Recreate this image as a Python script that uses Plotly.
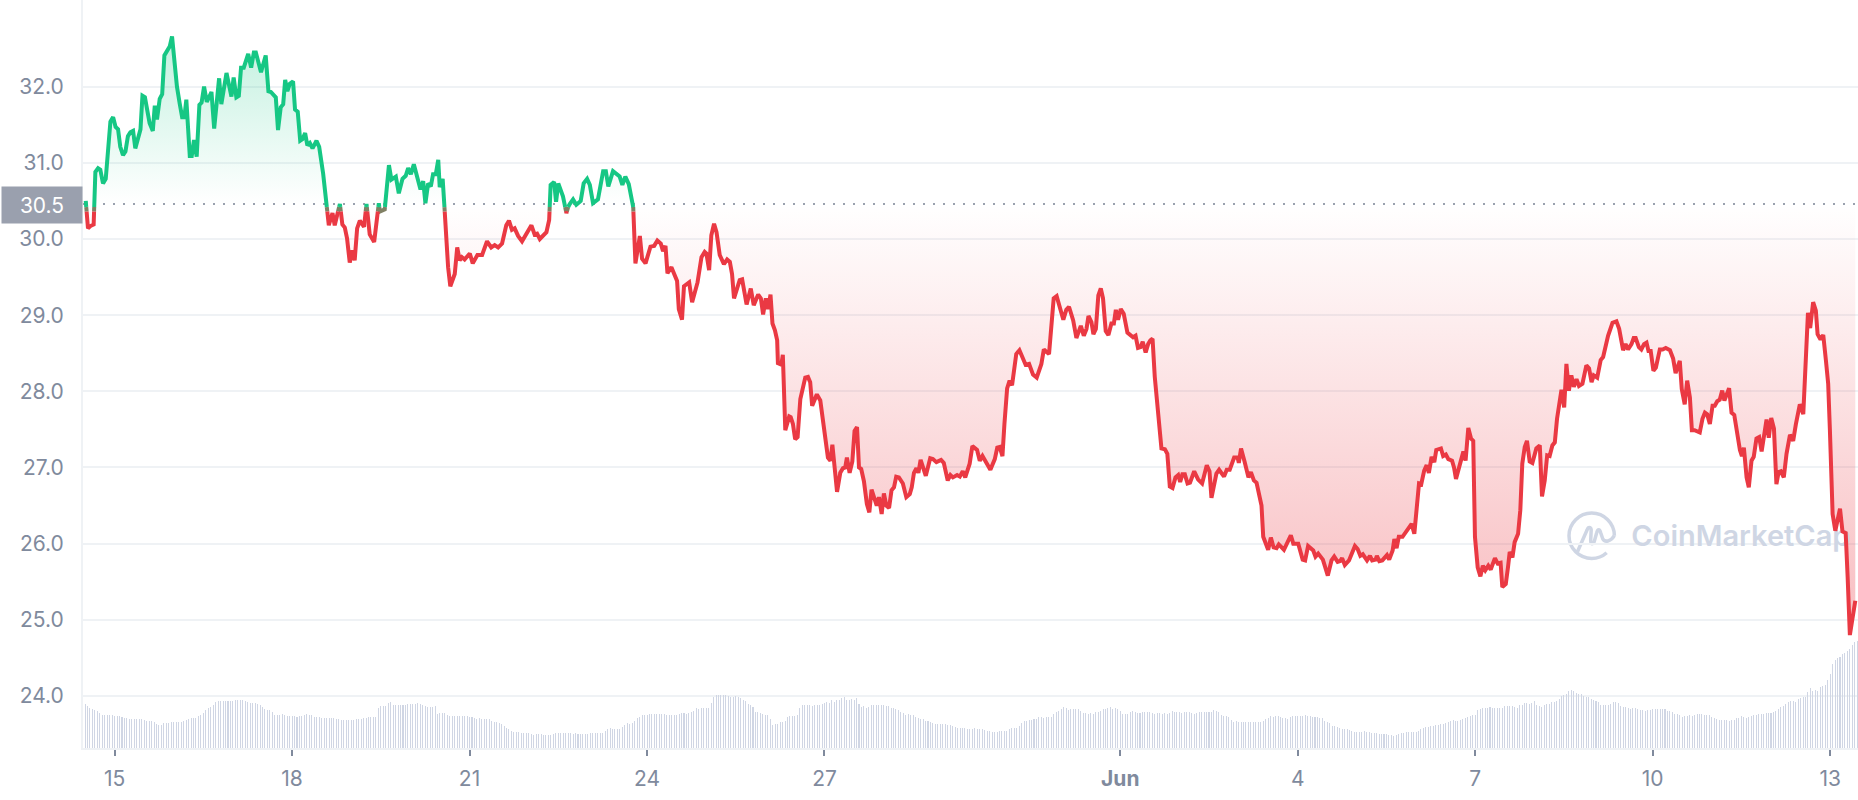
# CoinMarketCap style price chart: price line split around the period open, hourly volume below
import numpy as np
import pandas as pd
import plotly.graph_objects as go

GREEN = '#16c784'
RED = '#ea3943'
MIX = '#808064'
GRID = '#eff2f5'
TEXT = '#808a9d'
BAR = 'rgba(207,214,228,0.99)'  # below full opacity plotly rounds thin bars instead of widening them
MARK = '#cfd6e4'

# hours since 15 May 00:00 / price
hours_a = [-11.7, -10.8, -9.8, -8.5, -7.8, -6.7, -5.8, -4.7, -3.6, -1.7, -0.6, 0.4, 1.4, 2.3, 3.4, 4.4, 5.4, 6.4, 7.5, 8.4,
           10.5, 11.3, 12.3, 14.2, 15.5, 16.3, 17.2, 18.3, 19.3, 20.2, 21.3, 22.4, 23.3, 24.4, 25.3, 26.4, 27.4, 28.3, 29.1, 30.5,
           31.3, 32.2, 33.3, 34.4, 35.3, 36.3, 37.4, 38.3, 39.3, 40.4, 42.4, 43.3, 45.4, 47.4, 48.3, 49.4, 50.4, 51.3, 52.4, 54.2,
           55.4, 56.5, 57.3, 59.4, 61.3, 62.4, 63.4, 65.4, 66.3, 67.4, 68.4, 69.2, 70.1, 71.1, 72.4, 73.2, 74.3, 75.3, 76.2, 77.3,
           78.2, 79.2, 80.3, 81.9, 83.0, 84.6, 86.9, 88.4, 89.3, 91.4, 92.4, 93.4, 94.3, 95.4, 96.5, 97.4, 98.4, 99.5, 101.2, 102.2,
           103.5, 105.3, 107.2, 107.6, 109.6, 111.3, 112.3, 114.1, 115.3, 116.8, 118.1, 119.1, 120.2, 121.4, 124.1, 125.2, 126.1, 127.2, 128.3, 129.2,
           130.3, 131.3]
price_a = [30.50, 30.14, 30.17, 30.19, 30.88, 30.93, 30.91, 30.73, 30.79, 31.54, 31.60, 31.47, 31.44, 31.21, 31.10, 31.15, 31.35, 31.40, 31.42, 31.19,
           31.44, 31.88, 31.86, 31.52, 31.42, 31.75, 31.57, 31.84, 31.90, 32.41, 32.46, 32.53, 32.66, 32.26, 32.00, 31.78, 31.60, 31.60, 31.83, 31.09,
           31.09, 31.30, 31.08, 31.76, 31.79, 32.00, 31.80, 31.86, 31.93, 31.45, 32.11, 31.77, 32.18, 31.87, 32.12, 31.86, 31.88, 32.25, 32.25, 32.43,
           32.25, 32.45, 32.45, 32.19, 32.41, 31.94, 31.93, 31.86, 31.43, 31.73, 31.77, 32.09, 31.94, 32.04, 32.07, 31.70, 31.67, 31.29, 31.31, 31.39,
           31.23, 31.26, 31.19, 31.29, 31.21, 30.86, 30.18, 30.34, 30.18, 30.46, 30.19, 30.15, 30.01, 29.69, 29.85, 29.72, 30.14, 30.24, 30.16, 30.46,
           30.06, 29.96, 30.47, 30.36, 30.39, 30.97, 30.78, 30.82, 30.60, 30.79, 30.83, 30.93, 30.85, 30.98, 30.65, 30.76, 30.47, 30.73, 30.69, 30.85,
           30.85, 31.04]

hours_b = [131.9, 133.1, 133.9, 134.6, 135.3, 136.2, 138.0, 139.0, 140.0, 140.9, 142.0, 144.1, 145.3, 147.2, 149.1, 151.1, 152.8, 154.2, 155.6, 157.2,
           158.9, 160.0, 161.2, 162.3, 163.7, 165.3, 167.3, 169.1, 170.4, 171.4, 172.5, 175.2, 176.3, 176.9, 178.3, 179.1, 180.0, 181.9, 183.3, 184.2,
           186.0, 187.3, 189.1, 190.3, 191.7, 192.8, 194.1, 196.1, 198.2, 199.3, 200.3, 202.2, 204.9, 206.0, 207.2, 208.6, 210.4, 211.3, 213.1, 214.0,
           215.4, 217.4, 218.9, 220.2, 221.6, 222.5, 223.5, 224.3, 225.9, 228.2, 228.9, 230.2, 231.0, 233.1, 234.3, 236.5, 238.1, 239.4, 240.1, 241.2,
           242.1, 243.2, 244.2, 245.5, 247.2, 248.5, 249.6, 250.5, 251.3, 253.6, 254.6, 256.4, 258.1, 259.3, 261.1, 262.2, 263.1, 264.2, 265.1, 266.1,
           266.9, 267.9, 268.8, 269.1, 270.5, 271.1, 272.1, 273.7, 274.3]
price_b = [30.68, 30.79, 30.38, 29.90, 29.63, 29.38, 29.54, 29.89, 29.72, 29.76, 29.73, 29.81, 29.68, 29.79, 29.79, 29.97, 29.89, 29.92, 29.89, 29.94,
           30.18, 30.24, 30.12, 30.14, 30.04, 29.97, 30.09, 30.18, 30.06, 30.07, 30.00, 30.09, 30.25, 30.71, 30.75, 30.49, 30.73, 30.56, 30.34, 30.44,
           30.52, 30.45, 30.50, 30.73, 30.79, 30.71, 30.47, 30.52, 30.89, 30.89, 30.69, 30.89, 30.82, 30.71, 30.82, 30.72, 30.42, 29.68, 30.04, 29.74,
           29.68, 29.90, 29.91, 29.98, 29.94, 29.84, 29.91, 29.55, 29.63, 29.45, 29.08, 28.94, 29.38, 29.43, 29.17, 29.43, 29.76, 29.83, 29.81, 29.59,
           30.05, 30.20, 30.09, 29.79, 29.67, 29.73, 29.70, 29.54, 29.22, 29.46, 29.47, 29.14, 29.35, 29.13, 29.27, 29.22, 29.01, 29.22, 29.08, 29.27,
           28.89, 28.80, 28.67, 28.37, 28.35, 28.48, 27.49, 27.67, 27.66]

hours_c = [275.2, 276.1, 277.1, 278.2, 280.2, 281.3, 282.2, 283.0, 284.9, 286.3, 288.5, 289.4, 290.4, 291.2, 293.1, 294.4, 295.5, 296.4, 297.1, 298.2,
           299.3, 300.2, 301.2, 302.0, 302.9, 304.0, 305.2, 306.2, 307.1, 308.3, 309.2, 310.1, 311.2, 312.1, 313.1, 314.2, 315.2, 316.2, 317.1, 318.2,
           319.8, 321.2, 322.6, 323.4, 324.3, 325.3, 326.1, 327.0, 329.1, 330.9, 332.0, 333.4, 335.3, 336.4, 338.0, 339.1, 340.1, 341.8, 342.9, 344.1,
           345.1, 346.9, 348.0, 349.9, 351.0, 352.1, 353.4, 355.3, 357.1, 358.1, 359.1, 360.2, 361.0, 362.1, 363.1, 364.1, 365.8, 367.1, 369.6, 371.0,
           372.6, 374.1, 376.0, 377.0, 379.1, 381.0, 382.2, 383.4, 384.9, 386.1, 387.2, 388.9, 390.2, 392.0, 393.2, 394.3, 395.1, 396.3, 397.1, 398.1,
           399.1, 400.1, 401.0, 402.1, 403.2, 404.4, 405.4, 406.2, 407.1, 408.2, 409.4, 410.9, 412.1, 413.2, 414.2, 415.2, 416.2, 417.1, 418.3, 419.3]
price_c = [27.57, 27.37, 27.40, 27.90, 28.18, 28.19, 28.12, 27.81, 27.96, 27.88, 27.31, 27.13, 27.09, 27.30, 26.68, 26.93, 26.99, 27.00, 27.13, 26.93,
           27.08, 27.48, 27.53, 27.00, 26.98, 26.82, 26.52, 26.41, 26.71, 26.58, 26.50, 26.61, 26.39, 26.66, 26.50, 26.47, 26.70, 26.74, 26.88, 26.87,
           26.79, 26.61, 26.65, 26.74, 26.93, 26.99, 26.93, 27.10, 26.89, 27.12, 27.11, 27.07, 27.10, 27.06, 26.83, 26.90, 26.87, 26.90, 26.88, 26.95,
           26.87, 27.05, 27.28, 27.23, 27.09, 27.15, 27.07, 26.97, 27.11, 27.26, 27.27, 27.15, 27.57, 28.04, 28.14, 28.08, 28.49, 28.54, 28.35, 28.36,
           28.22, 28.18, 28.36, 28.55, 28.49, 29.22, 29.25, 29.13, 28.94, 29.07, 29.11, 28.93, 28.70, 28.86, 28.73, 28.82, 28.99, 28.91, 28.75, 28.82,
           29.26, 29.35, 29.22, 28.79, 28.74, 28.89, 28.89, 29.07, 28.94, 29.08, 29.02, 28.77, 28.74, 28.71, 28.73, 28.57, 28.58, 28.65, 28.51, 28.62]

hours_d = [420.2, 421.1, 422.0, 423.4, 424.7, 426.1, 427.1, 428.1, 429.2, 430.4, 431.5, 432.3, 433.2, 434.2, 435.3, 436.3, 438.0, 439.6, 441.2, 443.1,
           444.2, 445.0, 447.0, 448.1, 450.1, 451.2, 452.4, 454.2, 455.6, 456.1, 457.0, 458.5, 460.0, 461.0, 462.2, 463.3, 465.3, 466.0, 468.0, 469.1,
           470.2, 471.4, 472.3, 474.4, 476.1, 477.2, 478.2, 480.2, 482.0, 483.0, 484.2, 486.3, 487.2, 488.3, 490.2, 492.2, 493.7, 494.8, 496.2, 497.2,
           498.0, 499.1, 500.8, 503.2, 504.3, 505.4, 506.4, 508.1, 509.3, 510.2, 511.6, 512.1, 513.1, 514.3, 516.2, 517.1, 518.5, 519.2, 520.1, 521.0,
           522.5, 524.6, 526.2, 527.3, 528.2, 529.2, 530.1, 531.3, 532.3, 533.2, 534.3, 535.4, 536.2, 538.1, 539.0, 540.1, 541.1, 542.6, 543.4, 544.2,
           546.2, 547.2, 548.1, 549.2, 550.3, 551.2, 551.9, 553.0, 554.1, 555.1, 556.1, 557.3, 558.3, 560.0, 561.1, 562.3, 563.0]
price_d = [28.67, 28.69, 28.19, 27.66, 27.25, 27.24, 27.18, 26.75, 26.73, 26.87, 26.90, 26.81, 26.91, 26.91, 26.79, 26.80, 26.95, 26.84, 26.79, 27.03,
           26.95, 26.60, 26.92, 26.97, 26.88, 26.97, 26.97, 27.13, 27.13, 27.06, 27.25, 27.07, 26.87, 26.94, 26.83, 26.80, 26.50, 26.09, 25.92, 26.08,
           25.95, 25.94, 25.99, 25.92, 26.02, 26.11, 26.00, 26.00, 25.79, 25.78, 25.97, 25.91, 25.83, 25.87, 25.79, 25.58, 25.78, 25.83, 25.76, 25.77,
           25.81, 25.72, 25.78, 25.97, 25.93, 25.84, 25.86, 25.78, 25.84, 25.78, 25.79, 25.84, 25.77, 25.78, 25.85, 25.79, 25.91, 26.06, 25.94, 26.09,
           26.09, 26.18, 26.26, 26.13, 26.43, 26.79, 26.78, 26.96, 27.03, 26.93, 27.14, 27.07, 27.23, 27.25, 27.15, 27.17, 27.11, 27.09, 27.00, 26.85,
           27.09, 27.21, 27.09, 27.52, 27.38, 27.35, 26.09, 25.69, 25.57, 25.71, 25.65, 25.71, 25.66, 25.81, 25.74, 25.75, 25.43]

hours_e = [564.4, 565.3, 566.0, 567.1, 568.0, 569.4, 570.3, 571.1, 572.1, 573.0, 574.1, 575.2, 576.8, 578.2, 579.1, 580.2, 581.2, 582.2, 583.3, 584.3,
           585.2, 587.0, 588.1, 589.0, 590.0, 591.0, 592.0, 593.1, 594.1, 595.5, 596.6, 597.1, 598.2, 599.2, 600.1, 601.5, 602.9, 603.9, 605.9, 607.7,
           609.3, 610.4, 612.0, 613.0, 614.0, 615.4, 616.3, 617.1, 618.4, 619.4, 620.5, 621.5, 622.3, 623.2, 624.3, 625.3, 626.9, 628.0, 629.3, 631.0,
           632.3, 633.3, 635.0, 635.8, 637.0, 638.0, 639.1, 639.9, 641.0, 642.5, 643.1, 644.2, 645.2, 646.1, 647.2, 648.3, 649.2, 650.2, 651.2, 652.2,
           653.1, 655.0, 656.0, 657.1, 658.4, 659.4, 660.2, 661.0, 662.1, 663.0, 664.1, 665.0, 666.1, 667.2, 668.2, 670.2, 671.1, 672.1, 673.2, 674.2,
           675.1, 676.0, 677.2, 678.3, 679.7, 681.0, 682.1, 683.7, 685.1, 686.2, 687.0, 687.9, 689.1, 690.2, 690.9, 692.1, 693.2, 694.3, 695.2, 695.9,
           697.0, 698.1, 700.0, 701.0, 702.3, 703.1, 704.0, 706.2]
price_e = [25.47, 25.69, 25.89, 25.82, 26.02, 26.13, 26.44, 27.05, 27.27, 27.35, 27.08, 27.06, 27.25, 27.29, 26.62, 26.83, 27.16, 27.15, 27.29, 27.33,
           27.64, 28.02, 27.79, 28.36, 28.01, 28.21, 28.06, 28.16, 28.07, 28.10, 28.32, 28.34, 28.30, 28.12, 28.21, 28.18, 28.41, 28.45, 28.73, 28.90,
           28.92, 28.82, 28.54, 28.62, 28.55, 28.62, 28.70, 28.70, 28.58, 28.55, 28.62, 28.64, 28.53, 28.53, 28.27, 28.31, 28.55, 28.55, 28.57, 28.54,
           28.43, 28.24, 28.40, 28.03, 27.83, 28.14, 27.92, 27.49, 27.49, 27.46, 27.46, 27.64, 27.72, 27.70, 27.57, 27.81, 27.81, 27.87, 27.89, 28.01,
           27.88, 28.04, 27.72, 27.69, 27.40, 27.23, 27.15, 27.26, 26.87, 26.74, 27.09, 27.14, 27.38, 27.40, 27.21, 27.63, 27.39, 27.65, 27.51, 26.78,
           26.94, 26.95, 26.87, 27.18, 27.43, 27.35, 27.57, 27.83, 27.70, 28.62, 29.03, 28.83, 29.17, 29.06, 28.75, 28.68, 28.74, 28.40, 28.10, 27.49,
           26.39, 26.17, 26.46, 26.16, 26.14, 25.56, 24.80, 25.25]

# hourly volume (million USD), first bar at 14 May 12:00
volume_a = [44, 42, 40, 39, 38, 37, 35, 33, 33, 33, 33, 33, 32, 32, 32, 31, 30, 30, 29, 29, 29, 29, 29, 29,
            28, 27, 27, 27, 26, 24, 23, 23, 25, 25, 25, 26, 26, 26, 26, 26, 27, 28, 29, 30, 30, 30, 32, 33,
            35, 38, 40, 41, 43, 46, 47, 47, 47, 47, 47, 47, 47, 48, 48, 48, 48, 47, 46, 45, 45, 45, 44, 43,
            41, 39, 38, 38, 36, 33, 33, 33, 34, 33, 32, 32, 32, 32, 31, 32, 32, 33, 34, 33, 33, 31, 31, 31,
            30, 30, 30, 30, 30, 30, 29, 29, 28, 28, 28, 28, 28, 28, 29, 29, 29, 30, 30, 31, 31, 31, 31, 40,
            42, 42, 42, 45, 46, 43, 43, 43, 43, 43, 43, 44, 44, 44, 44, 45, 44, 43, 42, 41, 41, 41, 42, 34,
            35, 35, 35, 33, 32, 32, 32, 32, 32, 32, 32, 32, 31, 31, 30, 29, 30, 29, 29, 29, 29, 27, 26, 26,
            25, 24, 22, 20, 19, 17, 16, 16, 16, 15, 15, 15, 15, 14, 13, 14, 14, 14, 13, 13, 13, 13, 14, 15,
            15, 15, 15, 15, 15, 15, 14, 15, 14, 14, 14, 14, 14, 15, 15, 15, 15, 15, 15, 17, 19, 20, 19, 19,
            19, 19]
volume_b = [21, 23, 25, 24, 25, 27, 30, 31, 33, 33, 33, 34, 34, 34, 34, 34, 34, 34, 33, 33, 33, 33, 33, 34,
            35, 35, 34, 35, 36, 37, 40, 39, 40, 40, 40, 40, 45, 51, 53, 53, 53, 53, 53, 52, 51, 51, 52, 51,
            50, 48, 47, 44, 43, 41, 36, 36, 35, 34, 33, 33, 29, 23, 24, 24, 26, 26, 27, 31, 32, 32, 32, 33,
            40, 43, 43, 43, 43, 42, 43, 43, 43, 44, 45, 46, 45, 48, 46, 48, 48, 50, 51, 48, 48, 49, 48, 50,
            44, 41, 42, 40, 41, 43, 43, 43, 43, 43, 43, 42, 42, 40, 40, 39, 38, 36, 35, 33, 34, 33, 33, 31,
            30, 29, 29, 27, 27, 26, 25, 24, 24, 24, 24, 24, 23, 23, 22, 21, 20, 20, 20, 20, 19, 19, 19, 20,
            19, 19, 19, 18, 17, 17, 16, 16, 16, 17, 17, 17, 17, 19, 20, 20, 20, 22, 25, 27, 27, 28, 28, 29,
            29, 31, 31, 30, 31, 31, 31, 34, 36, 37, 39, 41, 40, 38, 39, 39, 39, 39, 37, 35, 35, 34, 35, 34,
            36, 36, 37, 39, 39, 40, 41, 39, 40, 39, 37, 34, 34, 34, 36, 37, 36, 35, 35, 36, 36, 36, 36, 35,
            34, 35, 35, 34, 35, 34, 35, 37, 36, 36, 36, 35, 36, 36, 36, 35, 34, 35, 36, 36, 36, 36, 36, 36,
            38, 37, 36, 33, 32, 32, 31, 28, 26, 27, 26, 26]
volume_c = [26, 26, 26, 26, 26, 26, 26, 26, 27, 29, 30, 32, 31, 32, 32, 31, 30, 30, 29, 31, 32, 32, 32, 32,
            32, 33, 32, 32, 31, 31, 31, 30, 30, 27, 26, 25, 22, 22, 21, 20, 19, 19, 19, 18, 17, 16, 16, 16,
            16, 17, 16, 16, 15, 15, 15, 14, 14, 14, 14, 13, 13, 12, 13, 14, 15, 15, 16, 16, 16, 16, 16, 17,
            19, 20, 21, 21, 22, 22, 23, 23, 24, 24, 25, 26, 27, 28, 27, 27, 28, 29, 30, 31, 32, 33, 33, 38,
            39, 40, 40, 40, 41, 40, 40, 40, 40, 40, 42, 42, 42, 42, 41, 40, 43, 43, 45, 45, 44, 45, 47, 43,
            42, 41, 43, 44, 44, 46, 46, 47, 49, 52, 53, 54, 57, 58, 57, 55, 54, 54, 52, 51, 51, 49, 48, 47,
            46, 43, 43, 43, 43, 44, 46, 46, 45, 42, 41, 41, 40, 39, 40, 40, 39, 38, 38, 37, 38, 38, 39, 39,
            39, 39, 39, 39, 37, 37, 36, 34, 34, 33, 31, 32, 32, 33, 32, 33, 34, 34, 34, 33, 33, 33, 31, 30,
            29, 28, 28, 28, 28, 27, 28, 28, 30, 30, 32, 31, 30, 31, 32, 33, 33, 34, 34, 34, 35, 35, 35, 36,
            37, 39, 41, 42, 44, 46, 47, 47, 46, 49, 50, 51, 51, 56, 60, 57, 58, 57, 61, 62, 63, 68, 74, 84,
            88, 90, 91, 94, 95, 97, 99, 103, 106, 107]

tick_dates = ['2022-05-15', '2022-05-18', '2022-05-21', '2022-05-24', '2022-05-27',
              '2022-06-01', '2022-06-04', '2022-06-07', '2022-06-10', '2022-06-13']
tick_labels = ['15', '18', '21', '24', '27', '<b>Jun</b>', '4', '7', '10', '13']
price_ticks = [24, 25, 26, 27, 28, 29, 30, 31, 32]

OPEN_PRICE = 30.46
SPLIT_HI = 30.42
SPLIT_LO = 30.36
T0 = pd.Timestamp('2022-05-15')


def to_time(h):
    return T0 + pd.to_timedelta(np.asarray(h, dtype=float), unit='h')


def with_crossings(h, p, levels):
    # adds a point wherever the line meets one of the levels
    xs, ys = [h[0]], [p[0]]
    for i in range(len(h) - 1):
        cuts = []
        for lv in levels:
            if (p[i] - lv) * (p[i + 1] - lv) < 0:
                cuts.append((lv - p[i]) / (p[i + 1] - p[i]))
        for t in sorted(cuts):
            xs.append(h[i] + t * (h[i + 1] - h[i]))
            ys.append(p[i] + t * (p[i + 1] - p[i]))
        xs.append(h[i + 1])
        ys.append(p[i + 1])
    return np.array(xs), np.array(ys)


def band(y, lo, hi):
    eps = 1e-9
    return np.where((y >= lo - eps) & (y <= hi + eps), y, np.nan)


hours = hours_a + hours_b + hours_c + hours_d + hours_e
prices = price_a + price_b + price_c + price_d + price_e
hx, py = with_crossings(hours, prices, [OPEN_PRICE, SPLIT_HI, SPLIT_LO])
tx = to_time(hx)

fig = go.Figure()

# green area above the open price, red area under it
fig.add_trace(go.Scatter(x=tx, y=np.full(len(tx), OPEN_PRICE), mode='lines', line=dict(width=0), hoverinfo='skip'))
fig.add_trace(go.Scatter(
    x=tx, y=np.maximum(py, OPEN_PRICE), mode='lines', line=dict(width=0), fill='tonexty', hoverinfo='skip',
    fillgradient=dict(type='vertical', start=OPEN_PRICE, stop=32.66,
                      colorscale=[[0, 'rgba(22,199,132,0)'], [1, 'rgba(22,199,132,0.26)']])
))
fig.add_trace(go.Scatter(x=tx, y=np.full(len(tx), OPEN_PRICE), mode='lines', line=dict(width=0), hoverinfo='skip'))
fig.add_trace(go.Scatter(
    x=tx, y=np.minimum(py, OPEN_PRICE), mode='lines', line=dict(width=0), fill='tonexty', hoverinfo='skip',
    fillgradient=dict(type='vertical', start=OPEN_PRICE, stop=25.4,
                      colorscale=[[0, 'rgba(234,57,67,0)'], [1, 'rgba(234,57,67,0.3)']])
))

# watermark text goes in as a trace so that the price line stays on top of it
fig.add_trace(go.Scatter(
    x=[to_time([659.8])[0]], y=[26.06], mode='text', text=['CoinMarketCap'], hoverinfo='skip',
    textfont=dict(family='Inter', size=29, color=MARK, weight=600)
))

# price line
fig.add_trace(go.Scatter(x=tx, y=band(py, SPLIT_LO, SPLIT_HI), mode='lines', line=dict(color=MIX, width=4)))
fig.add_trace(go.Scatter(x=tx, y=band(py, SPLIT_HI, 99), mode='lines', line=dict(color=GREEN, width=4)))
fig.add_trace(go.Scatter(x=tx, y=band(py, 0, SPLIT_LO), mode='lines', line=dict(color=RED, width=4)))

# volume
volume = volume_a + volume_b + volume_c
fig.add_trace(go.Bar(
    x=to_time(np.arange(len(volume)) - 12), y=volume, yaxis='y2',
    width=1500000, marker=dict(color=BAR, line=dict(width=0)), hoverinfo='skip'
))

fig.update_layout(
    width=1858, height=800,
    margin=dict(t=0, b=52, l=83, r=0),
    paper_bgcolor='white', plot_bgcolor='white',
    font=dict(family='Inter', color=TEXT, size=21),
    showlegend=False,
    xaxis=dict(
        type='date',
        range=[to_time([-12.82])[0], to_time([707.3])[0]],
        tickmode='array', tickvals=tick_dates, ticktext=tick_labels,
        ticks='outside', ticklen=6, tickwidth=1.5, tickcolor=TEXT,
        ticklabelstandoff=5,
        showgrid=False, showline=True, linecolor=GRID, linewidth=2, zeroline=False
    ),
    yaxis=dict(
        range=[23.317, 33.138],
        tickmode='array', tickvals=price_ticks, tickformat='.1f',
        ticks='', ticklabelstandoff=13,
        gridcolor=GRID, gridwidth=1.5,
        showline=True, linecolor=GRID, linewidth=2, zeroline=False
    ),
    yaxis2=dict(overlaying='y', range=[0, 748], visible=False),
    bargap=0
)

# dotted open price with its label on the axis
fig.add_shape(type='line', xref='paper', x0=0, x1=1, yref='y', y0=OPEN_PRICE, y1=OPEN_PRICE, layer='below',
              line=dict(color='#9aa1ae', width=2, dash='2px,8px'))
fig.add_annotation(
    xref='paper', x=0, xanchor='right', yref='y', y=OPEN_PRICE, yanchor='middle', showarrow=False,
    text='30.5', font=dict(color='white', size=21, family='Inter'),
    width=80, height=36, borderpad=0, bgcolor='#9aa0ae', align='center', yshift=-1
)

# logo mark of the watermark, in pixels around its centre
logo_ring = ('M 22.7 0 C 22.7 12.5 12.5 22.7 0 22.7 C -12.5 22.7 -22.7 12.5 -22.7 0 '
             'C -22.7 -12.5 -12.5 -22.7 0 -22.7 C 5.6 -22.7 11 -20.6 15 -17')
logo_wave = ('M -14.7 -17 L -4.5 6 C -3.5 9 -1 9 -0.5 6 L -1 -5 C -0.7 -9 1 -9 2.5 -6 L 5 3 C 6 7 8 7 9 3 '
             'L 11 -3 C 13 -7 19 -6 22.7 0')
for logo_path in (logo_ring, logo_wave):
    fig.add_shape(type='path', xref='paper', yref='paper', xsizemode='pixel', ysizemode='pixel',
                  xanchor=(1591.7 - 83) / 1775, yanchor=1 - 535.7 / 748, path=logo_path, layer='below',
                  line=dict(color=MARK, width=3.5))

fig.write_html("out.html", config={'displayModeBar': False},
               post_script="document.body.style.margin='0';document.body.style.overflow='hidden';")
